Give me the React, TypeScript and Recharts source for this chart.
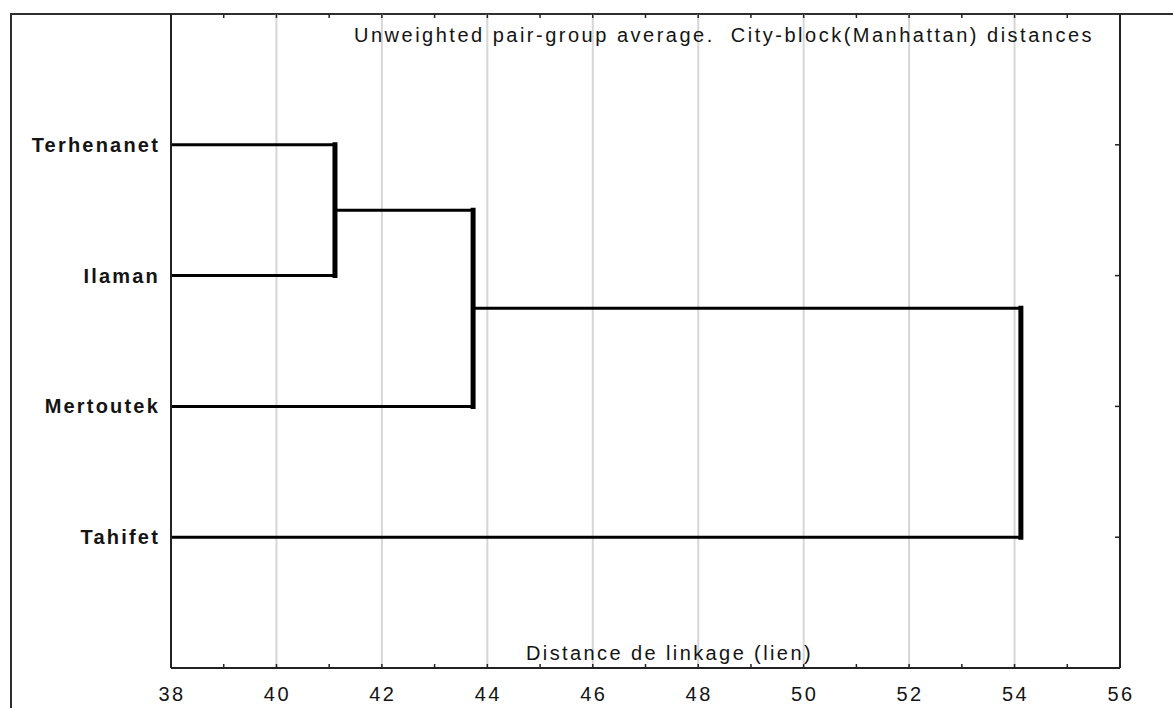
import { LineChart, Line, XAxis, YAxis, CartesianGrid } from "recharts";

// leaves, top to bottom
const leafNames = ["Terhenanet", "Ilaman", "Mertoutek", "Tahifet"];

// linkage steps: which two clusters join ("m0" = result of step 0) and at what distance
const mergeLeft = ["Terhenanet", "m0", "m1"];
const mergeRight = ["Ilaman", "Mertoutek", "Tahifet"];
const mergeDistances = [41.11, 43.73, 54.12];

const xTicks = [38, 39, 40, 41, 42, 43, 44, 45, 46, 47, 48, 49, 50, 51, 52, 53, 54, 55, 56];
const gridValues = [40, 42, 44, 46, 48, 50, 52, 54];
const leafTicks = [1, 2, 3, 4];

const title = "Unweighted pair-group average.  City-block(Manhattan) distances";
const axisTitle = "Distance de linkage (lien)";

const WIDTH = 1173;
const HEIGHT = 708;
const PLOT_TOP = 14;
const PLOT_BOTTOM = 668;
const PLOT_RIGHT = 1120;
const FONT = '"Liberation Sans", Arial, sans-serif';
const INK = "#141414";

type Pt = { x: number; y: number };
type Node = { pos: number; dist: number };

function buildSegments() {
  const merged: Node[] = [];
  const horizontals: Pt[][] = [];
  const verticals: Pt[][] = [];
  const nodeOf = (id: string): Node => {
    if (id.startsWith("m")) return merged[Number(id.slice(1))];
    return { pos: leafNames.indexOf(id) + 1, dist: xTicks[0] };
  };
  mergeDistances.forEach((d, i) => {
    const a = nodeOf(mergeLeft[i]);
    const b = nodeOf(mergeRight[i]);
    horizontals.push([{ x: a.dist, y: a.pos }, { x: d, y: a.pos }]);
    horizontals.push([{ x: b.dist, y: b.pos }, { x: d, y: b.pos }]);
    verticals.push([{ x: d, y: a.pos }, { x: d, y: b.pos }]);
    merged.push({ pos: (a.pos + b.pos) / 2, dist: d });
  });
  return { horizontals, verticals };
}

function XTick(props: any) {
  const { x, payload } = props;
  const v = payload.value as number;
  return (
    <g>
      <line x1={x} x2={x} y1={PLOT_BOTTOM} y2={PLOT_BOTTOM - 4} stroke="#222" strokeWidth={1.5} />
      <line x1={x} x2={x} y1={PLOT_TOP} y2={PLOT_TOP + 4} stroke="#222" strokeWidth={1.5} />
      {v % 2 === 0 && (
        <text x={x + 1} y={701} textAnchor="middle" fontSize={20} letterSpacing={2.5} fill={INK} fontFamily={FONT}>
          {v}
        </text>
      )}
    </g>
  );
}

function YTick(props: any) {
  const { y, payload } = props;
  return (
    <g>
      <line x1={PLOT_RIGHT - 5} x2={PLOT_RIGHT} y1={y} y2={y} stroke="#222" strokeWidth={1.5} />
      <text x={160} y={y + 7} textAnchor="end" fontSize={20} fontWeight="bold" letterSpacing={2.2} fill={INK} fontFamily={FONT}>
        {leafNames[payload.value - 1]}
      </text>
    </g>
  );
}

export default function App() {
  const { horizontals, verticals } = buildSegments();
  return (
    <div style={{ position: "absolute", left: 0, top: 0, width: WIDTH, height: HEIGHT, overflow: "hidden", background: "#fff" }}>
      <div
        style={{
          position: "absolute",
          left: 10,
          top: 13,
          width: 1300,
          height: 900,
          border: "2px solid #2e2e2e",
          boxSizing: "border-box",
        }}
      />
      <div style={{ position: "absolute", left: 0, top: 0 }}>
        <LineChart width={WIDTH} height={HEIGHT} margin={{ top: PLOT_TOP, right: 0, bottom: 0, left: 0 }}>
          <CartesianGrid horizontal={false} verticalValues={gridValues} stroke="#d6d6d6" strokeWidth={2} />
          <XAxis
            type="number"
            dataKey="x"
            domain={[38, 56]}
            ticks={xTicks}
            interval={0}
            height={40}
            tickLine={false}
            axisLine={{ stroke: "#222", strokeWidth: 2 }}
            tick={(p: any) => <XTick {...p} />}
          />
          <YAxis
            type="number"
            dataKey="y"
            domain={[0, 5]}
            reversed
            ticks={leafTicks}
            interval={0}
            width={171}
            tickLine={false}
            axisLine={{ stroke: "#222", strokeWidth: 2 }}
            tick={(p: any) => <YTick {...p} />}
          />
          <YAxis
            yAxisId="r"
            orientation="right"
            type="number"
            domain={[0, 5]}
            width={WIDTH - PLOT_RIGHT}
            tick={false}
            tickLine={false}
            axisLine={{ stroke: "#222", strokeWidth: 2 }}
          />
          {horizontals.map((seg, i) => (
            <Line
              key={`h${i}`}
              data={seg}
              dataKey="y"
              type="linear"
              stroke="#000"
              strokeWidth={3}
              dot={false}
              activeDot={false}
              isAnimationActive={false}
            />
          ))}
          {verticals.map((seg, i) => (
            <Line
              key={`v${i}`}
              data={seg}
              dataKey="y"
              type="linear"
              stroke="#000"
              strokeWidth={5}
              strokeLinecap="square"
              dot={false}
              activeDot={false}
              isAnimationActive={false}
            />
          ))}
        </LineChart>
      </div>
      <svg width={WIDTH} height={HEIGHT} style={{ position: "absolute", left: 0, top: 0, pointerEvents: "none" }}>
        <text x={354} y={42} fontSize={20} letterSpacing={2.5} fill={INK} fontFamily={FONT} style={{ whiteSpace: "pre" }}>
          {title}
        </text>
        <text x={526} y={660} fontSize={20} letterSpacing={2.4} fill={INK} fontFamily={FONT}>
          {axisTitle}
        </text>
      </svg>
    </div>
  );
}
